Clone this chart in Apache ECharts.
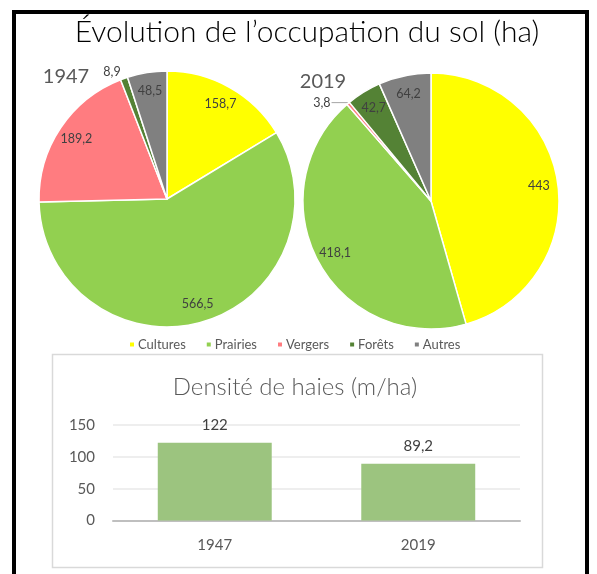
<!DOCTYPE html>
<html lang="fr">
<head>
<meta charset="utf-8">
<title>Évolution de l’occupation du sol</title>
<script src="https://cdn.jsdelivr.net/npm/echarts@6/dist/echarts.min.js"></script>
<style>
  html, body { margin: 0; padding: 0; background: #ffffff; }
  #chart { width: 597px; height: 574px; }
</style>
</head>
<body>
<div id="chart"></div>
<script>
// Land-use categories and their areas (ha)
const categories = ['Cultures', 'Prairies', 'Vergers', 'Forêts', 'Autres'];
const surfaces1947 = [158.7, 566.5, 189.2, 8.9, 48.5];
const surfaces2019 = [443, 418.1, 3.8, 42.7, 64.2];

// Hedge density per year (m/ha)
const years = ['1947', '2019'];
const hedgeDensity = [122, 89.2];
const densityTicks = [0, 50, 100, 150];

const palette = ['#FFFF00', '#92D050', '#FF7C80', '#548235', '#808080'];
const FONT = 'Lato, "Open Sans", "DejaVu Sans", sans-serif';

// French decimal comma
const fr = v => String(v).replace('.', ',');

function pieData(values) {
  return categories.map((name, i) => ({
    name: name,
    value: values[i],
    itemStyle: { color: palette[i] }
  }));
}

// Label ring: same values, transparent slices, labels set deep inside each slice;
// very thin slices get their label outside.
function labelData(values, lineFor) {
  const total = values.reduce((a, b) => a + b, 0);
  return categories.map((name, i) => {
    const item = { name: name, value: values[i] };
    if (values[i] / total < 0.02) {
      item.label = { position: 'outside', distanceToLabelLine: 1 };
      item.labelLine = lineFor;
    }
    return item;
  });
}

function pieSeries(values, center) {
  return {
    type: 'pie',
    center: center,
    radius: [0, 128],
    startAngle: 90,
    clockwise: true,
    silent: true,
    avoidLabelOverlap: false,
    itemStyle: { borderColor: '#ffffff', borderWidth: 1.5 },
    label: { show: false },
    labelLine: { show: false },
    emphasis: { disabled: true },
    data: pieData(values)
  };
}

function labelSeries(values, center, lineFor) {
  return {
    type: 'pie',
    center: center,
    radius: [84, 128],
    startAngle: 90,
    clockwise: true,
    silent: true,
    avoidLabelOverlap: false,
    legendHoverLink: false,
    itemStyle: { color: 'rgba(0,0,0,0)', borderWidth: 0 },
    label: {
      show: true,
      position: 'inside',
      formatter: p => fr(p.value),
      color: '#404040',
      fontSize: 12.5,
      fontFamily: FONT
    },
    labelLine: { show: false },
    emphasis: { disabled: true },
    data: labelData(values, lineFor)
  };
}

const chart = echarts.init(document.getElementById('chart'), null, { renderer: 'canvas' });

const option = {
  backgroundColor: '#ffffff',
  animation: false,
  color: palette,
  textStyle: { fontFamily: FONT },
  graphic: [
    // outer frame
    {
      type: 'rect', silent: true, z: 100,
      shape: { x: 14, y: 12, width: 573, height: 620 },
      style: { fill: null, stroke: '#000000', lineWidth: 4 }
    },
    // box around the hedge chart
    {
      type: 'rect', silent: true, z: -1,
      shape: { x: 52.5, y: 354.5, width: 490, height: 213 },
      style: { fill: '#ffffff', stroke: '#d9d9d9', lineWidth: 1.5 }
    },
    {
      type: 'text', silent: true,
      style: {
        text: 'Évolution de l’occupation du sol (ha)',
        x: 307, y: 32, textAlign: 'center', textVerticalAlign: 'middle',
        fontFamily: FONT, fontSize: 30, fontWeight: 300, fill: '#000000'
      }
    },
    {
      type: 'text', silent: true,
      style: {
        text: '1947', x: 66, y: 77, textAlign: 'center', textVerticalAlign: 'middle',
        fontFamily: FONT, fontSize: 20, fill: '#595959'
      }
    },
    {
      type: 'text', silent: true,
      style: {
        text: '2019', x: 323, y: 82, textAlign: 'center', textVerticalAlign: 'middle',
        fontFamily: FONT, fontSize: 20, fill: '#595959'
      }
    },
    {
      type: 'text', silent: true,
      style: {
        text: 'Densité de haies (m/ha)', x: 295, y: 387, textAlign: 'center', textVerticalAlign: 'middle',
        fontFamily: FONT, fontSize: 24, fontWeight: 300, fill: '#595959'
      }
    }
  ],
  legend: {
    data: categories,
    left: 123,
    top: 333,
    icon: 'rect',
    itemWidth: 6,
    itemHeight: 6,
    itemGap: 19,
    selectedMode: false,
    textStyle: { color: '#595959', fontSize: 13, fontFamily: FONT, padding: [0, 0, 0, -2] }
  },
  grid: { left: 113, right: 77, top: 425, bottom: 53.5, containLabel: false },
  xAxis: {
    type: 'category',
    data: years,
    axisLine: { lineStyle: { color: '#bfbfbf', width: 2 } },
    axisTick: { show: false },
    axisLabel: { color: '#595959', fontSize: 15, fontFamily: FONT, margin: 17 },
    splitLine: { show: false }
  },
  yAxis: {
    type: 'value',
    min: densityTicks[0],
    max: densityTicks[densityTicks.length - 1],
    interval: densityTicks[1] - densityTicks[0],
    axisLine: { show: false },
    axisTick: { show: false },
    axisLabel: { color: '#595959', fontSize: 15, fontFamily: FONT, margin: 18 },
    splitLine: { lineStyle: { color: '#e9e9e9', width: 1.5 } }
  },
  series: [
    pieSeries(surfaces1947, [167, 199]),
    labelSeries(surfaces1947, [167, 199], { show: false, length: 7, length2: 0 }),
    pieSeries(surfaces2019, [431, 201]),
    labelSeries(surfaces2019, [431, 201], {
      show: true, length: 1, length2: 16,
      lineStyle: { color: '#a6a6a6', width: 1 }
    }),
    {
      type: 'bar',
      data: hedgeDensity,
      barWidth: '56%',
      itemStyle: { color: '#9CC47F' },
      silent: true,
      label: {
        show: true,
        position: 'top',
        distance: 10,
        formatter: p => fr(p.value),
        color: '#404040',
        fontSize: 15,
        fontFamily: FONT
      }
    }
  ]
};

chart.setOption(option);
</script>
</body>
</html>
